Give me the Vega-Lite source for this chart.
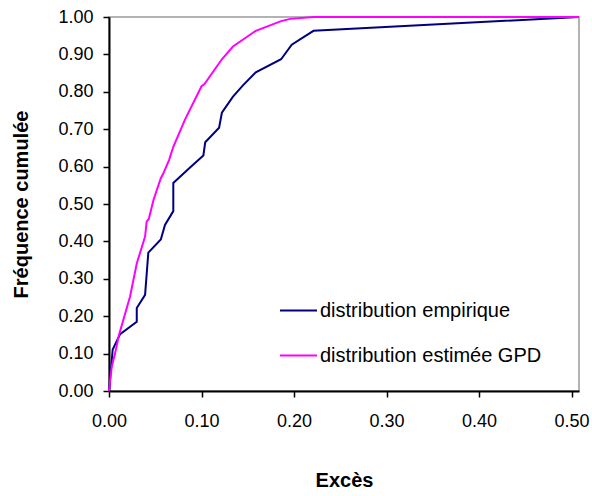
{
  "$schema": "https://vega.github.io/schema/vega-lite/v6.json",
  "autosize": {"type": "none"},
  "width": 470,
  "height": 374,
  "padding": {"left": 109, "top": 17, "right": 13, "bottom": 105},
  "background": "white",
  "config": {
    "font": "Liberation Sans",
    "view": {"stroke": "#999999", "strokeWidth": 1.5}
  },
  "data": {
    "values": [
      {"s": "distribution empirique", "i": 0, "x": 0, "y": 0},
      {"s": "distribution empirique", "i": 1, "x": 0.004, "y": 0.111},
      {"s": "distribution empirique", "i": 2, "x": 0.012, "y": 0.152},
      {"s": "distribution empirique", "i": 3, "x": 0.030, "y": 0.185},
      {"s": "distribution empirique", "i": 4, "x": 0.030, "y": 0.222},
      {"s": "distribution empirique", "i": 5, "x": 0.039, "y": 0.257},
      {"s": "distribution empirique", "i": 6, "x": 0.0425, "y": 0.370},
      {"s": "distribution empirique", "i": 7, "x": 0.056, "y": 0.405},
      {"s": "distribution empirique", "i": 8, "x": 0.0605, "y": 0.444},
      {"s": "distribution empirique", "i": 9, "x": 0.0695, "y": 0.481},
      {"s": "distribution empirique", "i": 10, "x": 0.0695, "y": 0.556},
      {"s": "distribution empirique", "i": 11, "x": 0.087, "y": 0.596},
      {"s": "distribution empirique", "i": 12, "x": 0.102, "y": 0.630},
      {"s": "distribution empirique", "i": 13, "x": 0.104, "y": 0.665},
      {"s": "distribution empirique", "i": 14, "x": 0.119, "y": 0.704},
      {"s": "distribution empirique", "i": 15, "x": 0.122, "y": 0.744},
      {"s": "distribution empirique", "i": 16, "x": 0.134, "y": 0.787},
      {"s": "distribution empirique", "i": 17, "x": 0.145, "y": 0.818},
      {"s": "distribution empirique", "i": 18, "x": 0.1586, "y": 0.852},
      {"s": "distribution empirique", "i": 19, "x": 0.186, "y": 0.887},
      {"s": "distribution empirique", "i": 20, "x": 0.1975, "y": 0.926},
      {"s": "distribution empirique", "i": 21, "x": 0.221, "y": 0.963},
      {"s": "distribution empirique", "i": 22, "x": 0.508, "y": 1.0},
      {"s": "distribution estimée GPD", "i": 0, "x": 0, "y": 0},
      {"s": "distribution estimée GPD", "i": 1, "x": 0.003, "y": 0.065},
      {"s": "distribution estimée GPD", "i": 2, "x": 0.0065, "y": 0.10},
      {"s": "distribution estimée GPD", "i": 3, "x": 0.011, "y": 0.152},
      {"s": "distribution estimée GPD", "i": 4, "x": 0.0227, "y": 0.252},
      {"s": "distribution estimée GPD", "i": 5, "x": 0.030, "y": 0.341},
      {"s": "distribution estimée GPD", "i": 6, "x": 0.039, "y": 0.413},
      {"s": "distribution estimée GPD", "i": 7, "x": 0.0407, "y": 0.453},
      {"s": "distribution estimée GPD", "i": 8, "x": 0.043, "y": 0.46},
      {"s": "distribution estimée GPD", "i": 9, "x": 0.048, "y": 0.51},
      {"s": "distribution estimée GPD", "i": 10, "x": 0.056, "y": 0.569},
      {"s": "distribution estimée GPD", "i": 11, "x": 0.0588, "y": 0.582},
      {"s": "distribution estimée GPD", "i": 12, "x": 0.065, "y": 0.618},
      {"s": "distribution estimée GPD", "i": 13, "x": 0.0695, "y": 0.653},
      {"s": "distribution estimée GPD", "i": 14, "x": 0.082, "y": 0.725},
      {"s": "distribution estimée GPD", "i": 15, "x": 0.100, "y": 0.815},
      {"s": "distribution estimée GPD", "i": 16, "x": 0.103, "y": 0.820},
      {"s": "distribution estimée GPD", "i": 17, "x": 0.122, "y": 0.887},
      {"s": "distribution estimée GPD", "i": 18, "x": 0.134, "y": 0.921},
      {"s": "distribution estimée GPD", "i": 19, "x": 0.1586, "y": 0.963},
      {"s": "distribution estimée GPD", "i": 20, "x": 0.186, "y": 0.989},
      {"s": "distribution estimée GPD", "i": 21, "x": 0.196, "y": 0.995},
      {"s": "distribution estimée GPD", "i": 22, "x": 0.221, "y": 1.0},
      {"s": "distribution estimée GPD", "i": 23, "x": 0.508, "y": 1.0}
    ]
  },
  "mark": {"type": "line", "strokeWidth": 2, "clip": false},
  "encoding": {
    "x": {
      "field": "x",
      "type": "quantitative",
      "scale": {"domain": [0, 0.508], "nice": false, "zero": false},
      "axis": {
        "title": "Excès",
        "values": [0, 0.1, 0.2, 0.3, 0.4, 0.5],
        "format": ".2f",
        "grid": false,
        "domainColor": "black",
        "domainWidth": 2,
        "tickColor": "black",
        "tickWidth": 1.5,
        "tickSize": 6,
        "labelFontSize": 18,
        "labelColor": "black",
        "labelPadding": 15,
        "labelFlush": false,
        "titleFontSize": 20,
        "titleFontWeight": "bold",
        "titleColor": "black",
        "titlePadding": 40
      }
    },
    "y": {
      "field": "y",
      "type": "quantitative",
      "scale": {"domain": [0, 1], "nice": false},
      "axis": {
        "title": "Fréquence cumulée",
        "values": [0, 0.1, 0.2, 0.3, 0.4, 0.5, 0.6, 0.7, 0.8, 0.9, 1.0],
        "format": ".2f",
        "grid": false,
        "domainColor": "black",
        "domainWidth": 2,
        "tickColor": "black",
        "tickWidth": 1.5,
        "tickSize": 6,
        "labelFontSize": 18,
        "labelColor": "black",
        "labelPadding": 10,
        "labelFlush": false,
        "titleFontSize": 20,
        "titleFontWeight": "bold",
        "titleColor": "black",
        "titlePadding": 26
      }
    },
    "color": {
      "field": "s",
      "type": "nominal",
      "scale": {
        "domain": ["distribution empirique", "distribution estimée GPD"],
        "range": ["#000080", "#FF00FF"]
      },
      "legend": {
        "title": null,
        "orient": "none",
        "legendX": 170,
        "legendY": 274,
        "symbolType": "stroke",
        "symbolSize": 1369,
        "symbolStrokeWidth": 2,
        "labelFontSize": 20,
        "labelColor": "black",
        "labelOffset": 2,
        "rowPadding": 15,
        "labelLimit": 400
      }
    },
    "order": {"field": "i", "type": "quantitative"}
  }
}
